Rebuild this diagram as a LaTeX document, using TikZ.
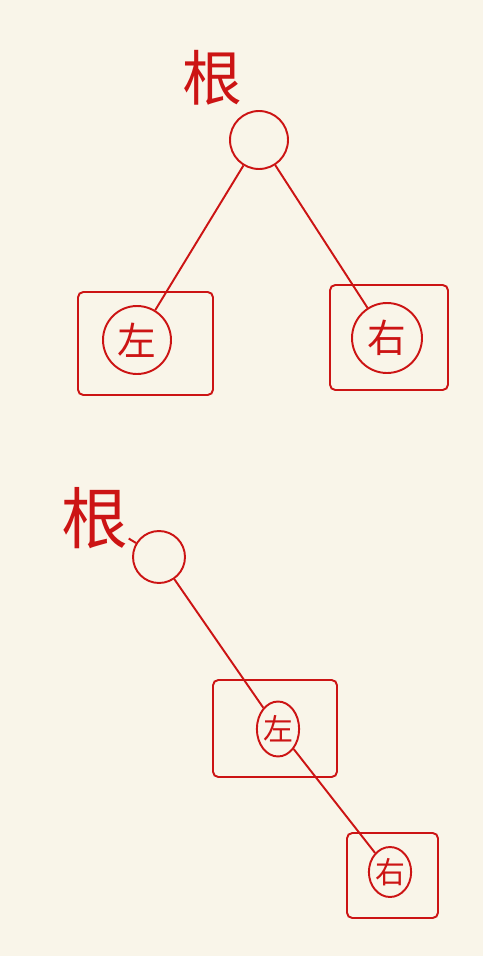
\documentclass[tikz,border=0pt]{standalone}
\usepackage{fontspec}
\newfontfamily\cjk{Noto Sans CJK SC}
\usetikzlibrary{shapes.geometric}
\definecolor{ink}{HTML}{CC1414}
\definecolor{paper}{HTML}{F9F5E9}
\tikzset{
        pen/.style={draw=ink, line width=1.1pt},
        knot/.style={pen, circle, inner sep=0pt, text=ink},
        oval/.style={pen, ellipse, inner sep=0pt, text=ink},
        frame/.style={pen, rectangle, rounded corners=3pt, inner sep=0pt},
        tag/.style={text=ink, inner sep=0pt}
}
\begin{document}
\begin{tikzpicture}[x=0.02cm, y=-0.02cm]
        \fill[paper] (0,0) rectangle (483,956);
        \useasboundingbox (0,0) rectangle (483,956);
        % first tree
        \node (fA) [frame, minimum width=2.7cm, minimum height=2.06cm] at (145.5, 343.5) {};
        \node (fB) [frame, minimum width=2.36cm, minimum height=2.1cm] at (389, 337.5) {};
        \node (r1) [knot, minimum size=1.16cm] at (259, 140) {};
        \node (l1) [knot, minimum size=1.36cm, font=\cjk\fontsize{22}{22}\selectfont] at (137, 340) {左};
        \node (q1) [knot, minimum size=1.4cm, font=\cjk\fontsize{22}{22}\selectfont] at (387, 338) {右};
        \node (t1) [tag, font=\cjk\fontsize{34}{34}\selectfont] at (212, 78) {根};
        \draw[pen] (r1) edge (l1);
        \draw[pen] (r1) edge (q1);
        % second tree
        \node (fC) [frame, minimum width=2.48cm, minimum height=1.94cm] at (275, 728.5) {};
        \node (fD) [frame, minimum width=1.82cm, minimum height=1.7cm] at (392.5, 875.5) {};
        \node (r2) [knot, minimum size=1.04cm] at (159, 557) {};
        \node (l2) [oval, minimum width=0.8cm, minimum height=1.1cm, font=\cjk\fontsize{17}{17}\selectfont] at (278, 729) {左};
        \node (q2) [oval, minimum width=0.8cm, minimum height=1.0cm, font=\cjk\fontsize{17}{17}\selectfont] at (390, 872) {右};
        \node (t2) [tag, font=\cjk\fontsize{38}{38}\selectfont] at (95, 518) {根};
        \draw[pen] (t2) edge (r2);
        \draw[pen] (r2) edge (l2);
        \draw[pen] (l2) edge (q2);
\end{tikzpicture}
\end{document}
